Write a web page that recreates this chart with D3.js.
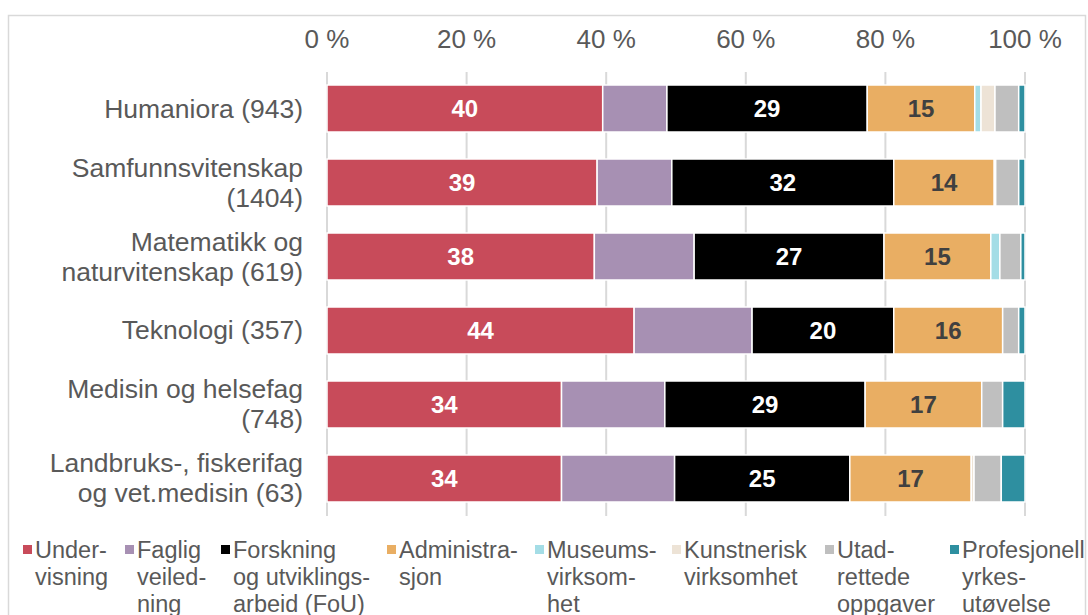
<!DOCTYPE html>
<html>
<head>
<meta charset="utf-8">
<script src="https://cdn.jsdelivr.net/npm/d3@7"></script>
<style>
  body { margin: 0; background: #fff; }
  svg { font-family: "Liberation Sans", Arial, sans-serif; }
</style>
</head>
<body>
<div id="chart-area"></div>
<script>
// categories (each line of the label is a separate entry)
var categories = [
  ["Humaniora (943)"],
  ["Samfunnsvitenskap", "(1404)"],
  ["Matematikk og", "naturvitenskap (619)"],
  ["Teknologi (357)"],
  ["Medisin og helsefag", "(748)"],
  ["Landbruks-, fiskerifag", "og vet.medisin (63)"]
];

var seriesNames = [
  ["Under-", "visning"],
  ["Faglig", "veiled-", "ning"],
  ["Forskning", "og utviklings-", "arbeid (FoU)"],
  ["Administra-", "sjon"],
  ["Museums-", "virksom-", "het"],
  ["Kunstnerisk", "virksomhet"],
  ["Utad-", "rettede", "oppgaver"],
  ["Profesjonell", "yrkes-", "utøvelse"]
];

// percent per category, one array per series
var undervisning   = [39.5, 38.7, 38.3, 44.0, 33.6, 33.6];
var veiledning     = [ 9.2, 10.7, 14.3, 16.9, 14.8, 16.2];
var fou            = [28.7, 31.8, 27.2, 20.3, 28.7, 25.1];
var administrasjon = [15.4, 14.4, 15.3, 15.6, 16.7, 17.4];
var museum         = [ 0.9,  0.2,  1.3,  0.0,  0.0,  0.0];
var kunstnerisk    = [ 2.0,  0.0,  0.0,  0.0,  0.0,  0.4];
var utadrettede    = [ 3.4,  3.3,  3.0,  2.3,  3.0,  3.9];
var profesjonell   = [ 0.9,  0.9,  0.6,  0.9,  3.2,  3.4];

var ticks = [0, 20, 40, 60, 80, 100];

var colors = ["#c84b5a", "#a790b3", "#000000", "#e9ae63", "#a4dde6", "#ede3d6", "#bfbfbf", "#2e8fa0"];
var labelled = [0, 2, 3]; // series with value labels
var labelColor = ["#ffffff", null, "#ffffff", "#404040"];

var allSeries = [undervisning, veiledning, fou, administrasjon, museum, kunstnerisk, utadrettede, profesjonell];

var width = 1088, height = 615;

var svg = d3.select("#chart-area").append("svg")
  .attr("width", width)
  .attr("height", height);

// outer frame
svg.append("rect")
  .attr("x", 8.5).attr("y", 15.5)
  .attr("width", 1077).attr("height", 640)
  .attr("fill", "none")
  .attr("stroke", "#d9d9d9")
  .attr("stroke-width", 1.5);

var x = d3.scaleLinear().domain([0, 100]).range([327, 1025]);
var y = d3.scaleBand()
  .domain(d3.range(categories.length))
  .range([58, 529])
  .paddingInner(0.365)
  .paddingOuter(0.365);

// grid
svg.append("g").selectAll("line")
  .data(ticks)
  .enter().append("line")
  .attr("x1", function(d) { return x(d); })
  .attr("x2", function(d) { return x(d); })
  .attr("y1", 72)
  .attr("y2", 516)
  .attr("stroke", "#d9d9d9")
  .attr("stroke-width", 2);

// tick labels on top
svg.append("g").selectAll("text")
  .data(ticks)
  .enter().append("text")
  .attr("x", function(d) { return x(d); })
  .attr("y", 48)
  .attr("text-anchor", "middle")
  .attr("font-size", 26)
  .attr("fill", "#595959")
  .text(function(d) { return d + " %"; });

// build stacked rows
var rows = categories.map(function(c, i) {
  var row = { idx: i };
  allSeries.forEach(function(s, k) { row["s" + k] = s[i]; });
  return row;
});
var keys = allSeries.map(function(s, k) { return "s" + k; });
var stacked = d3.stack().keys(keys)(rows);

var layer = svg.append("g").selectAll("g")
  .data(stacked)
  .enter().append("g")
  .attr("fill", function(d, k) { return colors[k]; });

layer.selectAll("rect")
  .data(function(d) { return d; })
  .enter().append("rect")
  .filter(function(d) { return d[1] - d[0] > 0; })
  .attr("x", function(d) { return x(d[0]); })
  .attr("y", function(d) { return y(d.data.idx); })
  .attr("width", function(d) { return x(d[1]) - x(d[0]); })
  .attr("height", y.bandwidth())
  .attr("stroke", "#ffffff")
  .attr("stroke-width", 1.5);

// value labels
labelled.forEach(function(k) {
  svg.append("g").selectAll("text")
    .data(stacked[k])
    .enter().append("text")
    .attr("x", function(d) { return (x(d[0]) + x(d[1])) / 2; })
    .attr("y", function(d) { return y(d.data.idx) + y.bandwidth() / 2 + 8.5; })
    .attr("text-anchor", "middle")
    .attr("font-size", 24)
    .attr("font-weight", "bold")
    .attr("fill", labelColor[k])
    .text(function(d) { return Math.round(d[1] - d[0]); });
});

// category labels
var cat = svg.append("g").selectAll("text")
  .data(categories)
  .enter().append("text")
  .attr("text-anchor", "end")
  .attr("font-size", 26.5)
  .attr("fill", "#595959");

cat.selectAll("tspan")
  .data(function(d, i) { return d.map(function(t, j) { return { t: t, j: j, n: d.length, i: i }; }); })
  .enter().append("tspan")
  .attr("x", 303)
  .attr("y", function(d) { return y(d.i) + y.bandwidth() / 2 + 9 + (d.j - (d.n - 1) / 2) * 30; })
  .text(function(d) { return d.t; });

// legend
var legendX = [35, 137, 233, 399, 547, 684, 837, 962];

var leg = svg.append("g").selectAll("g")
  .data(seriesNames)
  .enter().append("g")
  .attr("transform", function(d, i) { return "translate(" + legendX[i] + ",0)"; });

leg.append("rect")
  .attr("x", -12)
  .attr("y", 545)
  .attr("width", 9)
  .attr("height", 9)
  .attr("fill", function(d, i) { return colors[i]; });

leg.append("text")
  .attr("font-size", 23.5)
  .attr("fill", "#595959")
  .selectAll("tspan")
  .data(function(d) { return d; })
  .enter().append("tspan")
  .attr("x", 0)
  .attr("y", function(d, j) { return 558 + j * 27; })
  .text(function(d) { return d; });
</script>
</body>
</html>
